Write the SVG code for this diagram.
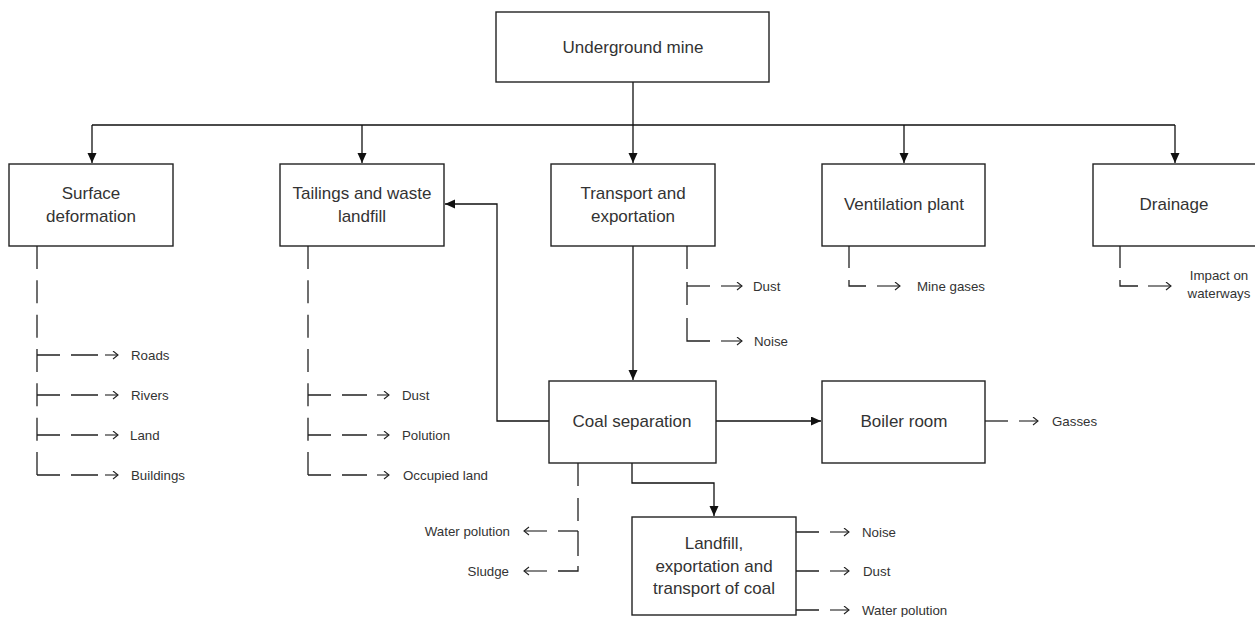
<svg xmlns="http://www.w3.org/2000/svg" width="1255" height="617" viewBox="0 0 1255 617">
<defs>
<marker id="ah" markerUnits="userSpaceOnUse" markerWidth="11" markerHeight="10" refX="10" refY="4.5" orient="auto">
<path d="M0,0 L10,4.5 L0,9 z" fill="#111"/>
</marker>
<marker id="oh" markerUnits="userSpaceOnUse" markerWidth="8" markerHeight="10" refX="6" refY="4.5" orient="auto">
<path d="M1,0.5 L6,4.5 L1,8.5" fill="none" stroke="#222" stroke-width="1.1"/>
</marker>
</defs>
<style>
.box{fill:#fff;stroke:#222;stroke-width:1.4}
.lbl{font-family:"Liberation Sans",Arial,sans-serif;font-size:17px;fill:#333;text-anchor:middle}
.sm{font-family:"Liberation Sans",Arial,sans-serif;font-size:13.3px;fill:#333}
.c{fill:none;stroke:#111;stroke-width:1.3}
.d{fill:none;stroke:#222;stroke-width:1.3;stroke-dasharray:23 11.33}
.h{fill:none;stroke:#222;stroke-width:1.3;stroke-dasharray:23 11 27 100}
.s{fill:none;stroke:#222;stroke-width:1.3}
.a{fill:none;stroke:#222;stroke-width:1.1;marker-end:url(#oh)}
</style>
<rect width="1255" height="617" fill="#fff"/>

<g id="connectors">
<path class="c" d="M633,82 V125 M92,125 H1175"/>
<path class="c" d="M92,125 V163" marker-end="url(#ah)"/>
<path class="c" d="M362,125 V163" marker-end="url(#ah)"/>
<path class="c" d="M633,125 V163" marker-end="url(#ah)"/>
<path class="c" d="M904,125 V163" marker-end="url(#ah)"/>
<path class="c" d="M1175,125 V163" marker-end="url(#ah)"/>
<path class="c" d="M633,246 V380" marker-end="url(#ah)"/>
<path class="c" d="M549,421 H497 V204 H445" marker-end="url(#ah)"/>
<path class="c" d="M716,421 H821" marker-end="url(#ah)"/>
<path class="c" d="M632,463 V483 H714 V516" marker-end="url(#ah)"/>

<!-- surface deformation impacts -->
<path class="d" d="M37,246 V475"/>
<path class="h" d="M37,355 H98"/>
<path class="h" d="M37,395 H98"/>
<path class="h" d="M37,435 H98"/>
<path class="h" d="M37,475 H98"/>
<path class="a" d="M105,355 H118"/>
<path class="a" d="M105,395 H118"/>
<path class="a" d="M105,435 H118"/>
<path class="a" d="M105,475 H118"/>
<!-- tailings impacts -->
<path class="d" d="M308,246 V475"/>
<path class="h" d="M308,395 H367"/>
<path class="h" d="M308,435 H367"/>
<path class="h" d="M308,475 H367"/>
<path class="a" d="M377,395 H389"/>
<path class="a" d="M377,435 H389"/>
<path class="a" d="M377,475 H389"/>
<!-- transport impacts -->
<path class="s" d="M687,246 V269 M687,282 V305 M687,318 V341 H710"/>
<path class="s" d="M687,286 H710"/>
<path class="a" d="M721,286 H742"/>
<path class="a" d="M721,341 H742"/>
<!-- ventilation -->
<path class="s" d="M849,246 V268 M849,280 V286 H866"/>
<path class="a" d="M877,286 H900"/>
<!-- drainage -->
<path class="s" d="M1120,246 V268 M1120,280 V286 H1138"/>
<path class="a" d="M1148,286 H1171"/>
<!-- coal separation -->
<path class="s" d="M578,463 V486 M578,498 V521 M578,531 V556 M578,566 V571 H558"/>
<path class="s" d="M578,531 H558"/>
<path class="a" d="M547,531 H524"/>
<path class="a" d="M547,571 H524"/>
<!-- boiler -->
<path class="s" d="M985,421 H1008"/>
<path class="a" d="M1019,421 H1038"/>
<!-- landfill -->
<path class="s" d="M796,532 H819 M796,571 H819 M796,610 H819"/>
<path class="a" d="M830,532 H849"/>
<path class="a" d="M830,571 H849"/>
<path class="a" d="M830,610 H849"/>
</g>

<g id="underground-mine">
<rect class="box" x="496" y="12" width="273" height="70"/>
<text class="lbl" x="633" y="53">Underground mine</text>
</g>
<g id="surface-deformation">
<rect class="box" x="9" y="164" width="164" height="82"/>
<text class="lbl" x="91" y="199">Surface</text>
<text class="lbl" x="91" y="222">deformation</text>
</g>
<g id="tailings">
<rect class="box" x="280" y="164" width="164" height="82"/>
<text class="lbl" x="362" y="199">Tailings and waste</text>
<text class="lbl" x="362" y="222">landfill</text>
</g>
<g id="transport">
<rect class="box" x="551" y="164" width="164" height="82"/>
<text class="lbl" x="633" y="199">Transport and</text>
<text class="lbl" x="633" y="222">exportation</text>
</g>
<g id="ventilation">
<rect class="box" x="822" y="164" width="163" height="82"/>
<text class="lbl" x="904" y="210">Ventilation plant</text>
</g>
<g id="drainage">
<rect class="box" x="1093" y="164" width="164" height="82"/>
<text class="lbl" x="1174" y="210">Drainage</text>
</g>
<g id="coal-separation">
<rect class="box" x="549" y="381" width="167" height="82"/>
<text class="lbl" x="632" y="427">Coal separation</text>
</g>
<g id="boiler-room">
<rect class="box" x="822" y="381" width="163" height="82"/>
<text class="lbl" x="904" y="427">Boiler room</text>
</g>
<g id="landfill">
<rect class="box" x="632" y="517" width="164" height="98"/>
<text class="lbl" x="714" y="549">Landfill,</text>
<text class="lbl" x="714" y="572">exportation and</text>
<text class="lbl" x="714" y="594">transport of coal</text>
</g>

<g id="impact-labels">
<text class="sm" x="131" y="360">Roads</text>
<text class="sm" x="131" y="400">Rivers</text>
<text class="sm" x="130" y="440">Land</text>
<text class="sm" x="131" y="480">Buildings</text>
<text class="sm" x="402" y="400">Dust</text>
<text class="sm" x="402" y="440">Polution</text>
<text class="sm" x="403" y="480">Occupied land</text>
<text class="sm" x="753" y="291">Dust</text>
<text class="sm" x="754" y="346">Noise</text>
<text class="sm" x="917" y="291">Mine gases</text>
<text class="sm" x="1219" y="280" text-anchor="middle">Impact on</text>
<text class="sm" x="1219" y="298" text-anchor="middle">waterways</text>
<text class="sm" x="1052" y="426">Gasses</text>
<text class="sm" x="510" y="536" text-anchor="end">Water polution</text>
<text class="sm" x="509" y="576" text-anchor="end">Sludge</text>
<text class="sm" x="862" y="537">Noise</text>
<text class="sm" x="863" y="576">Dust</text>
<text class="sm" x="862" y="615">Water polution</text>
</g>
</svg>
